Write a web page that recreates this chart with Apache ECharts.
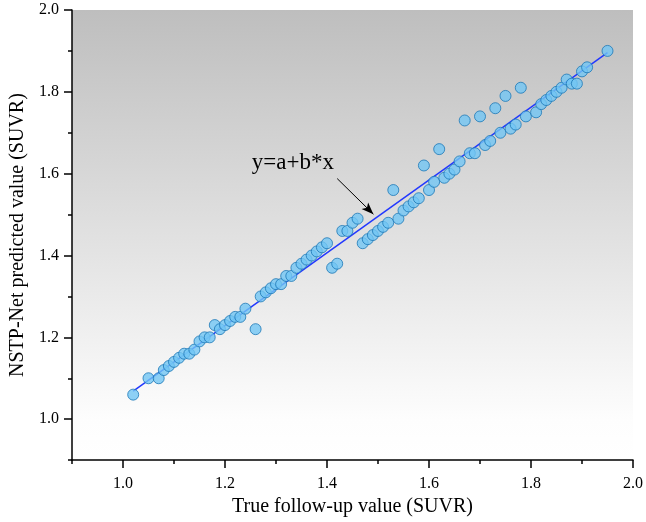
<!DOCTYPE html>
<html>
<head>
<meta charset="utf-8">
<script src="https://cdn.jsdelivr.net/npm/echarts@6/dist/echarts.min.js"></script>
<style>
  html, body { margin: 0; padding: 0; background: #fff; }
  #main { width: 646px; height: 522px; }
</style>
</head>
<body>
<div id="main"></div>
<script>
// true follow-up SUVR vs NSTP-Net prediction
var trueVals = [
  1.02, 1.05, 1.07, 1.08, 1.09, 1.10, 1.11, 1.12, 1.13, 1.14,
  1.15, 1.16, 1.17, 1.18, 1.19, 1.20, 1.21, 1.22, 1.23, 1.24,
  1.26, 1.27, 1.28, 1.29, 1.30, 1.31, 1.32, 1.33, 1.34, 1.35,
  1.36, 1.37, 1.38, 1.39, 1.40, 1.41, 1.42, 1.43, 1.44, 1.45,
  1.46, 1.47, 1.48, 1.49, 1.50, 1.51, 1.52, 1.53, 1.54, 1.55,
  1.56, 1.57, 1.58, 1.59, 1.60, 1.61, 1.62, 1.63, 1.64, 1.65,
  1.66, 1.67, 1.68, 1.69, 1.70, 1.71, 1.72, 1.73, 1.74, 1.75,
  1.76, 1.77, 1.78, 1.79, 1.81, 1.82, 1.83, 1.84, 1.85, 1.86,
  1.87, 1.88, 1.89, 1.90, 1.91, 1.95
];
var predVals = [
  1.06, 1.10, 1.10, 1.12, 1.13, 1.14, 1.15, 1.16, 1.16, 1.17,
  1.19, 1.20, 1.20, 1.23, 1.22, 1.23, 1.24, 1.25, 1.25, 1.27,
  1.22, 1.30, 1.31, 1.32, 1.33, 1.33, 1.35, 1.35, 1.37, 1.38,
  1.39, 1.40, 1.41, 1.42, 1.43, 1.37, 1.38, 1.46, 1.46, 1.48,
  1.49, 1.43, 1.44, 1.45, 1.46, 1.47, 1.48, 1.56, 1.49, 1.51,
  1.52, 1.53, 1.54, 1.62, 1.56, 1.58, 1.66, 1.59, 1.60, 1.61,
  1.63, 1.73, 1.65, 1.65, 1.74, 1.67, 1.68, 1.76, 1.70, 1.79,
  1.71, 1.72, 1.81, 1.74, 1.75, 1.77, 1.78, 1.79, 1.80, 1.81,
  1.83, 1.82, 1.82, 1.85, 1.86, 1.90
];
var majorTicks = [1.0, 1.2, 1.4, 1.6, 1.8, 2.0];
var minorTicks = [0.9, 1.1, 1.3, 1.5, 1.7, 1.9];
var annotText = 'y=a+b*x';

var points = trueVals.map(function (x, i) { return [x, predVals[i]]; });

// least squares fit for the line
var n = trueVals.length, sx = 0, sy = 0, sxx = 0, sxy = 0;
for (var i = 0; i < n; i++) {
  sx += trueVals[i]; sy += predVals[i];
  sxx += trueVals[i] * trueVals[i]; sxy += trueVals[i] * predVals[i];
}
var b = (n * sxy - sx * sy) / (n * sxx - sx * sx);
var a = (sy - b * sx) / n;
var xMin = Math.min.apply(null, trueVals), xMax = Math.max.apply(null, trueVals);
var fitLine = [[xMin, a + b * xMin], [xMax, a + b * xMax]];

var font = '"Liberation Serif", "Times New Roman", serif';

// main axis: line, long ticks, labels
function mainAxis(name, gap, margin) {
  return {
    type: 'value', min: 0.9, max: 2.0,
    name: name,
    nameLocation: 'middle',
    nameGap: gap,
    nameTextStyle: { fontFamily: font, fontSize: 20, color: '#000' },
    axisLine: { show: true, onZero: false, lineStyle: { color: '#000', width: 1.5 } },
    axisTick: { show: true, inside: false, length: 8, customValues: majorTicks,
                lineStyle: { color: '#000', width: 1.5 } },
    axisLabel: { fontFamily: font, fontSize: 16, color: '#000', margin: margin,
                 customValues: majorTicks, formatter: function (v) { return v.toFixed(1); } },
    splitLine: { show: false }
  };
}
// overlay axis: short minor ticks only
function minorAxis() {
  return {
    type: 'value', min: 0.9, max: 2.0,
    axisLine: { show: false, onZero: false },
    axisTick: { show: true, inside: false, length: 4, customValues: minorTicks,
                lineStyle: { color: '#000', width: 1.5 } },
    axisLabel: { show: false },
    splitLine: { show: false }
  };
}

var minX = minorAxis(); minX.position = 'bottom';
var minY = minorAxis(); minY.position = 'left';

var myChart = echarts.init(document.getElementById('main'));
var option = {
  animation: false,
  backgroundColor: '#fff',
  grid: {
    left: 71, right: 12, top: 10, bottom: 60,
    show: true,
    borderWidth: 0,
    backgroundColor: {
      type: 'linear', x: 0, y: 0, x2: 0, y2: 1,
      colorStops: [
        { offset: 0, color: '#bebebe' },
        { offset: 0.91, color: '#fdfdfd' },
        { offset: 1, color: '#ffffff' }
      ]
    }
  },
  xAxis: [mainAxis('True follow-up value (SUVR)', 32, 16), minX],
  yAxis: [mainAxis('NSTP-Net predicted value (SUVR)', 44, 13), minY],
  series: [
    {
      type: 'line',
      data: fitLine,
      symbol: 'none',
      z: 3,
      lineStyle: { color: '#2238ff', width: 1.5 },
      markLine: {
        silent: true,
        symbol: ['none', 'arrow'],
        symbolSize: [7, 12],
        label: { show: false },
        lineStyle: { color: '#000', width: 1, type: 'solid' },
        data: [[{ coord: [1.42, 1.588] }, { coord: [1.491, 1.501] }]]
      },
      markPoint: {
        silent: true,
        symbol: 'circle',
        symbolSize: 1,
        itemStyle: { color: 'rgba(0,0,0,0)' },
        label: {
          show: true,
          formatter: annotText,
          fontFamily: font,
          fontSize: 23,
          color: '#000',
          position: 'inside'
        },
        data: [{ coord: [1.333, 1.627] }]
      }
    },
    {
      type: 'scatter',
      data: points,
      symbol: 'circle',
      symbolSize: 11,
      z: 4,
      itemStyle: { color: '#72c6f4', borderColor: '#1d78b6', borderWidth: 1 }
    }
  ]
};
myChart.setOption(option);
</script>
</body>
</html>
